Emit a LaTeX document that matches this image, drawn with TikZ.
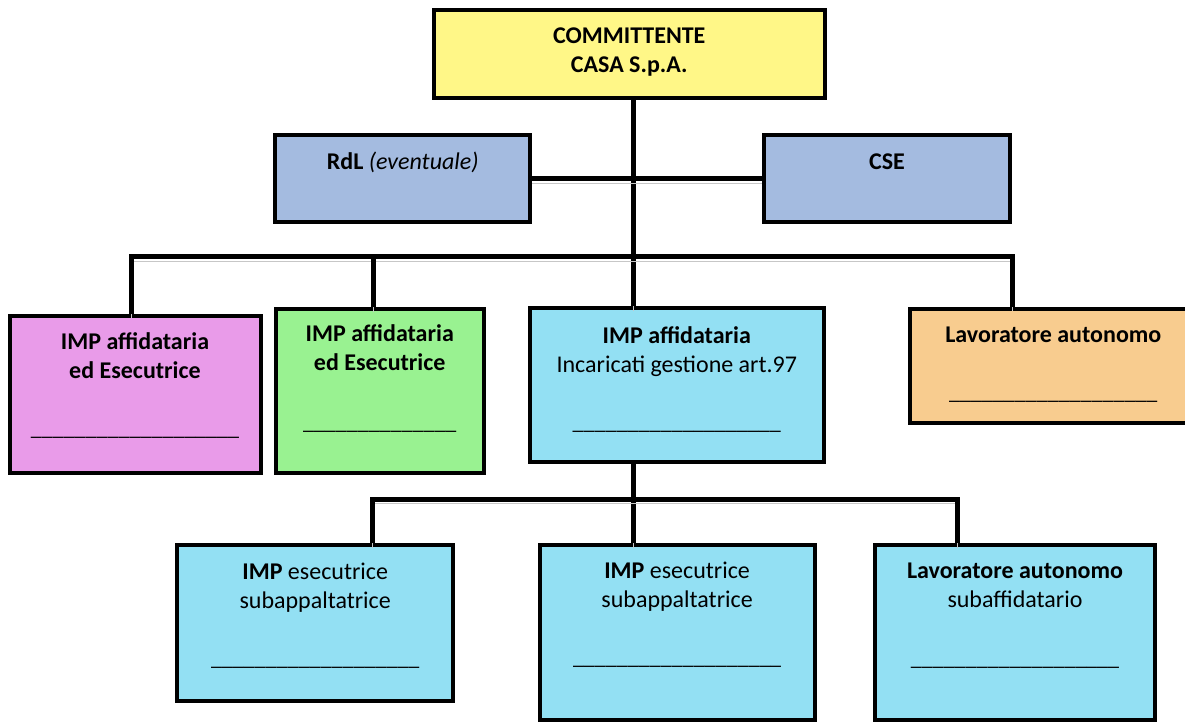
\documentclass[tikz,border=0pt]{standalone}
\usepackage{fontspec}
\setmainfont{Carlito}
\usepackage{tikz}
\usetikzlibrary{positioning}
\definecolor{yelbox}{RGB}{255,247,135}
\definecolor{slatebox}{RGB}{164,187,224}
\definecolor{pinkbox}{RGB}{233,155,233}
\definecolor{greenbox}{RGB}{153,242,145}
\definecolor{cyanbox}{RGB}{147,224,243}
\definecolor{orangebox}{RGB}{248,204,143}
\newcommand{\fieldline}{\_\_\_\_\_\_\_\_\_\_\_\_\_\_\_\_\_\_\_}
\newcommand{\shortfieldline}{\_\_\_\_\_\_\_\_\_\_\_\_\_\_}

\begin{document}
\begin{tikzpicture}[x=0.5pt, y=-0.5pt,
    font=\fontsize{12}{14.5}\selectfont,
    box/.style={draw, line width=2pt, inner sep=0pt},
    lbl/.style={inner sep=0pt, align=center, anchor=base},
    blank/.style={lbl, font=\fontsize{11}{14}\selectfont},
    link/.style={line width=2.5pt, preaction={draw, black!22, transform canvas={yshift=-2.25pt}}}]
    \useasboundingbox (0,0) rectangle (1185,722);

    % Committente and staff
    \node[box, fill=yelbox, minimum width=195.75pt, minimum height=44pt] (top) at (629.3,54) {};
    \node[box, fill=slatebox, minimum width=127.5pt, minimum height=43.35pt] (rdl) at (402.8,178.7) {};
    \node[box, fill=slatebox, minimum width=123.3pt, minimum height=43.35pt] (cse) at (887,178.7) {};

    % Affidatarie
    \node[box, fill=pinkbox, minimum width=125.5pt, minimum height=78.5pt] (impA) at (135,394) {};
    \node[box, fill=greenbox, minimum width=104.25pt, minimum height=81.75pt] (impB) at (379.75,390.75) {};
    \node[box, fill=cyanbox, minimum width=146.8pt, minimum height=76.85pt] (impC) at (676.8,385) {};
    \node[box, fill=orangebox, minimum width=143pt, minimum height=57.05pt] (lav) at (1053.3,365.75) {};

    % Subappalto
    \node[box, fill=cyanbox, minimum width=138.15pt, minimum height=77.85pt] (sub1) at (315.2,623.2) {};
    \node[box, fill=cyanbox, minimum width=137.6pt, minimum height=87.35pt] (sub2) at (677.1,632.65) {};
    \node[box, fill=cyanbox, minimum width=140pt, minimum height=87.5pt] (sub3) at (1015,632.5) {};

    % Texts (base = last line)
    \node[below=32.15pt of top.north, lbl] (topT) {\textbf{COMMITTENTE}\\\textbf{CASA S.p.A.}};
    \node[below=18pt of rdl.north, lbl] (rdlT) {\textbf{RdL} \textit{(eventuale)}};
    \node[below=18pt of cse.north, lbl] (cseT) {\textbf{CSE}};
    \node[below=32.5pt of impA.north, lbl] (impAT) {\textbf{IMP affidataria}\\\textbf{ed Esecutrice}};
    \node[below=31.85pt of impB.north, lbl] (impBT) {\textbf{IMP affidataria}\\\textbf{ed Esecutrice}};
    \node[below=33pt of impC.north, lbl] (impCT) {\textbf{IMP affidataria}\\Incaricati gestione art.97};
    \node[below=18pt of lav.north, lbl] (lavT) {\textbf{Lavoratore autonomo}};
    \node[below=32.5pt of sub1.north, lbl] (sub1T) {\textbf{IMP} esecutrice\\subappaltatrice};
    \node[below=32pt of sub2.north, lbl] (sub2T) {\textbf{IMP} esecutrice\\subappaltatrice};
    \node[below=32pt of sub3.north, lbl] (sub3T) {\textbf{Lavoratore autonomo}\\subaffidatario};

    % Blank fields
    \node[below=61pt of impA.north, blank] (impAL) {\fieldline};
    \node[below=61.25pt of impB.north, blank] (impBL) {\shortfieldline};
    \node[below=61.75pt of impC.north, blank] (impCL) {\fieldline};
    \node[below=46.55pt of lav.north, blank] (lavL) {\fieldline};
    \node[below=60.95pt of sub1.north, blank] (sub1L) {\fieldline};
    \node[below=60.45pt of sub2.north, blank] (sub2L) {\fieldline};
    \node[below=61.1pt of sub3.north, blank] (sub3L) {\fieldline};

    % Bus points
    \coordinate (trunk) at (633,256.5);
    \coordinate (busA) at (131.3,256.5);
    \coordinate (busB) at (373,256.5);
    \coordinate (busD) at (1012,256.5);
    \coordinate (busE) at (372.4,499);
    \coordinate (busG) at (957.8,499);

    % Connectors
    \draw[link] (top.south -| trunk) -- (impC.north -| trunk);
    \draw[link] (rdl.east) -- (cse.west);
    \draw[link] (impA.north -| busA) -- (busA) -- (busD) -- (lav.north -| busD);
    \draw[link] (busB) -- (impB.north -| busB);
    \draw[link] (impC.south -| trunk) -- (sub2.north -| trunk);
    \draw[link] (sub1.north -| busE) -- (busE) -- (busG) -- (sub3.north -| busG);
\end{tikzpicture}
\end{document}
